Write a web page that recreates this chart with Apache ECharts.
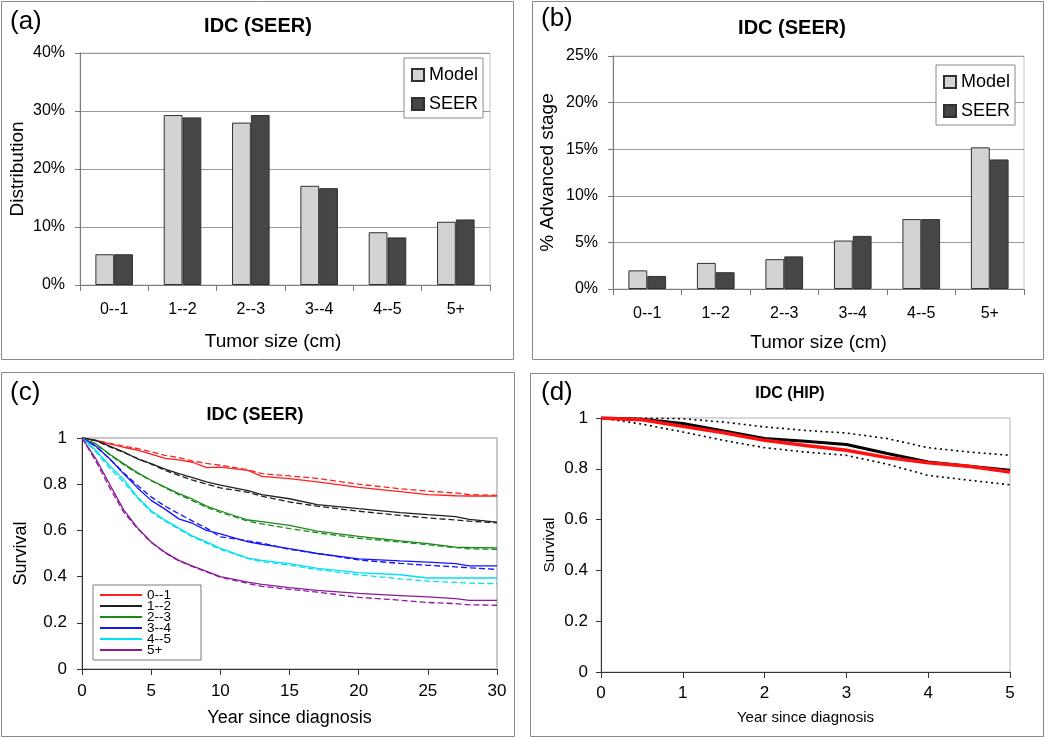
<!DOCTYPE html>
<html>
<head>
<meta charset="utf-8">
<script src="https://cdn.jsdelivr.net/npm/echarts@6/dist/echarts.min.js"></script>
<style>html,body{margin:0;padding:0;background:#fff}#chart{width:1050px;height:738px}</style>
</head>
<body>
<div id="chart"></div>
<script>
// ---------- data ----------
const catLabels = ['0--1', '1--2', '2--3', '3--4', '4--5', '5+'];
const distModel = [5.3, 29.3, 28.0, 17.1, 9.1, 10.9];
const distSeer  = [5.3, 28.9, 29.3, 16.7, 8.2, 11.3];
const advModel  = [2.0, 2.8, 3.2, 5.2, 7.5, 15.2];
const advSeer   = [1.4, 1.8, 3.5, 5.7, 7.5, 13.9];

const survYears = [0, 1, 2, 3, 4, 5, 6, 7, 8, 9, 10, 12, 13, 15, 17, 20, 23, 25, 27, 28, 30];
const groupNames = ['0--1', '1--2', '2--3', '3--4', '4--5', '5+'];
const surv01Solid  = [1, 0.99, 0.975, 0.96, 0.948, 0.93, 0.912, 0.905, 0.895, 0.872, 0.874, 0.86, 0.834, 0.824, 0.81, 0.786, 0.768, 0.755, 0.75, 0.749, 0.749];
const surv01Dashed = [1, 0.99, 0.977, 0.965, 0.955, 0.94, 0.925, 0.915, 0.9, 0.89, 0.882, 0.862, 0.846, 0.836, 0.825, 0.8, 0.78, 0.77, 0.762, 0.755, 0.752];
const surv12Solid  = [1, 0.99, 0.965, 0.94, 0.91, 0.889, 0.865, 0.846, 0.828, 0.81, 0.796, 0.772, 0.755, 0.737, 0.712, 0.694, 0.677, 0.668, 0.66, 0.648, 0.636];
const surv12Dashed = [1, 0.988, 0.962, 0.938, 0.912, 0.887, 0.86, 0.838, 0.818, 0.8, 0.784, 0.765, 0.748, 0.723, 0.705, 0.683, 0.665, 0.654, 0.645, 0.64, 0.633];
const surv23Solid  = [1, 0.975, 0.93, 0.889, 0.85, 0.817, 0.787, 0.759, 0.735, 0.705, 0.684, 0.645, 0.638, 0.622, 0.597, 0.574, 0.555, 0.543, 0.528, 0.526, 0.524];
const surv23Dashed = [1, 0.973, 0.928, 0.885, 0.848, 0.815, 0.785, 0.755, 0.728, 0.7, 0.678, 0.64, 0.628, 0.608, 0.59, 0.566, 0.55, 0.538, 0.525, 0.52, 0.518];
const surv34Solid  = [1, 0.965, 0.91, 0.846, 0.785, 0.73, 0.692, 0.65, 0.63, 0.6, 0.585, 0.55, 0.54, 0.521, 0.5, 0.477, 0.468, 0.463, 0.456, 0.446, 0.446];
const surv34Dashed = [1, 0.963, 0.91, 0.85, 0.795, 0.745, 0.705, 0.672, 0.64, 0.61, 0.572, 0.555, 0.545, 0.518, 0.5, 0.472, 0.457, 0.449, 0.442, 0.438, 0.431];
const surv45Solid  = [1, 0.947, 0.88, 0.822, 0.745, 0.685, 0.645, 0.61, 0.575, 0.55, 0.522, 0.48, 0.47, 0.456, 0.436, 0.417, 0.408, 0.394, 0.394, 0.394, 0.394];
const surv45Dashed = [1, 0.94, 0.87, 0.81, 0.74, 0.68, 0.64, 0.605, 0.572, 0.545, 0.518, 0.478, 0.465, 0.45, 0.43, 0.408, 0.39, 0.38, 0.375, 0.372, 0.369];
const surv5pSolid  = [1, 0.91, 0.8, 0.69, 0.612, 0.55, 0.505, 0.47, 0.445, 0.423, 0.4, 0.376, 0.366, 0.352, 0.34, 0.327, 0.318, 0.312, 0.305, 0.297, 0.297];
const surv5pDashed = [1, 0.9, 0.785, 0.68, 0.608, 0.548, 0.503, 0.468, 0.443, 0.42, 0.398, 0.37, 0.358, 0.345, 0.333, 0.31, 0.298, 0.288, 0.283, 0.278, 0.276];

const hipYears    = [0, 0.5, 1, 1.5, 2, 2.5, 3, 3.5, 4, 4.5, 5];
const hipObserved = [1, 0.995, 0.978, 0.949, 0.919, 0.908, 0.896, 0.86, 0.827, 0.81, 0.794];
const hipModel    = [1, 0.993, 0.967, 0.942, 0.912, 0.892, 0.873, 0.844, 0.824, 0.81, 0.787];
const hipUpper    = [1, 1.0, 0.997, 0.984, 0.965, 0.951, 0.941, 0.919, 0.883, 0.866, 0.853];
const hipLower    = [1, 0.976, 0.945, 0.912, 0.883, 0.866, 0.853, 0.818, 0.774, 0.755, 0.737];

// ---------- styles ----------
const FONT = '"Liberation Sans", Arial, sans-serif';
const groupColors = ['#ff2020', '#202020', '#1a8a1a', '#1515ff', '#00e0f0', '#8a1a9a'];
const solidSets = [surv01Solid, surv12Solid, surv23Solid, surv34Solid, surv45Solid, surv5pSolid];
const dashedSets = [surv01Dashed, surv12Dashed, surv23Dashed, surv34Dashed, surv45Dashed, surv5pDashed];

const zip = (xs, ys) => xs.map((x, i) => [x, ys[i]]);

function catAxis(gi, name, gap, namePad) {
  return {
    gridIndex: gi, type: 'category', data: catLabels,
    axisLine: { show: true, lineStyle: { color: '#7a7a7a', width: 1 } },
    axisTick: { show: true, length: 6, lineStyle: { color: '#7a7a7a' } },
    axisLabel: { color: '#000', fontSize: 16, margin: 17, fontFamily: FONT },
    name: name, nameLocation: 'middle', nameGap: gap,
    nameTextStyle: { color: '#000', fontSize: 19, fontFamily: FONT, padding: namePad }
  };
}
function pctAxis(gi, max, interval, name, gap) {
  return {
    gridIndex: gi, type: 'value', min: 0, max: max, interval: interval,
    axisLine: { show: true, lineStyle: { color: '#7a7a7a', width: 1 } },
    axisTick: { show: true, length: 5, lineStyle: { color: '#7a7a7a' } },
    axisLabel: { color: '#000', fontSize: 16, margin: 15, fontFamily: FONT, formatter: '{value}%' },
    splitLine: { show: true, lineStyle: { color: '#9a9a9a', width: 1 } },
    name: name, nameLocation: 'middle', nameGap: gap, nameRotate: 90,
    nameTextStyle: { color: '#000', fontSize: 19, fontFamily: FONT }
  };
}
function valXAxis(gi, max, interval, gap, fs, nfs, margin) {
  return {
    gridIndex: gi, type: 'value', min: 0, max: max, interval: interval,
    axisLine: { show: true, lineStyle: { color: '#333', width: 1 } },
    axisTick: { show: true, length: 6, lineStyle: { color: '#333' } },
    axisLabel: { color: '#000', fontSize: fs, margin: margin, fontFamily: FONT },
    splitLine: { show: false },
    name: 'Year since diagnosis', nameLocation: 'middle', nameGap: gap,
    nameTextStyle: { color: '#000', fontSize: nfs, fontFamily: FONT }
  };
}
function survYAxis(gi, gap, fs, nfs, margin) {
  return {
    gridIndex: gi, type: 'value', min: 0, max: 1, interval: 0.2,
    axisLine: { show: true, lineStyle: { color: '#333', width: 1 } },
    axisTick: { show: true, length: 5, lineStyle: { color: '#333' } },
    axisLabel: { color: '#000', fontSize: fs, margin: margin, fontFamily: FONT },
    splitLine: { show: false },
    name: 'Survival', nameLocation: 'middle', nameGap: gap, nameRotate: 90,
    nameTextStyle: { color: '#000', fontSize: nfs, fontFamily: FONT }
  };
}
function barSeries(name, data, gi, color) {
  return {
    name: name, type: 'bar', xAxisIndex: gi, yAxisIndex: gi, data: data,
    barGap: '0%', barCategoryGap: '45%',
    itemStyle: { color: color, borderColor: '#303030', borderWidth: 1 },
    emphasis: { disabled: true }, animation: false
  };
}

const series = [
  barSeries('Model', distModel, 0, '#d3d3d3'),
  barSeries('SEER', distSeer, 0, '#464646'),
  barSeries('Model', advModel, 1, '#d3d3d3'),
  barSeries('SEER', advSeer, 1, '#464646')
];
groupNames.forEach((g, i) => {
  series.push({
    name: g, type: 'line', xAxisIndex: 2, yAxisIndex: 2, data: zip(survYears, solidSets[i]),
    symbol: 'none', color: groupColors[i], lineStyle: { width: 1.3, color: groupColors[i] }, animation: false
  });
  series.push({
    name: g + ' model', type: 'line', xAxisIndex: 2, yAxisIndex: 2, data: zip(survYears, dashedSets[i]),
    symbol: 'none', color: groupColors[i], lineStyle: { width: 1.3, type: [6, 3], color: groupColors[i] }, animation: false
  });
});
series.push(
  { name: 'Upper', type: 'line', xAxisIndex: 3, yAxisIndex: 3, data: zip(hipYears, hipUpper), symbol: 'none',
    lineStyle: { width: 1.6, type: [2, 3.5], color: '#000' }, animation: false },
  { name: 'Lower', type: 'line', xAxisIndex: 3, yAxisIndex: 3, data: zip(hipYears, hipLower), symbol: 'none',
    lineStyle: { width: 1.6, type: [2, 3.5], color: '#000' }, animation: false },
  { name: 'Observed', type: 'line', xAxisIndex: 3, yAxisIndex: 3, data: zip(hipYears, hipObserved), symbol: 'none',
    lineStyle: { width: 3, color: '#000' }, animation: false },
  { name: 'Predicted', type: 'line', xAxisIndex: 3, yAxisIndex: 3, data: zip(hipYears, hipModel), symbol: 'none',
    lineStyle: { width: 3.5, color: '#ff1010' }, animation: false }
);

function titleItem(text, left, top, size, bold, align) {
  return { text: text, left: left, top: top, padding: 0, textAlign: align,
    textStyle: { fontSize: size, fontWeight: bold ? 'bold' : 'normal', color: '#000', fontFamily: FONT } };
}

const option = {
  backgroundColor: '#fff',
  animation: false,
  textStyle: { fontFamily: FONT },
  title: [
    titleItem('(a)', 10, 9, 26, false, 'left'),
    titleItem('(b)', 541, 6, 26, false, 'left'),
    titleItem('(c)', 10, 380, 26, false, 'left'),
    titleItem('(d)', 541, 380, 26, false, 'left'),
    titleItem('IDC (SEER)', 258, 16, 20, true, 'center'),
    titleItem('IDC (SEER)', 792, 18, 20, true, 'center'),
    titleItem('IDC (SEER)', 255, 406, 18, true, 'center'),
    titleItem('IDC (HIP)', 790, 386, 16, true, 'center')
  ],
  grid: [
    { left: 80, top: 53, width: 410, height: 232, show: true, borderColor: '#c4c4c4', borderWidth: 1 },
    { left: 613, top: 56, width: 411, height: 233, show: true, borderColor: '#c4c4c4', borderWidth: 1 },
    { left: 82, top: 438, width: 415, height: 231, show: true, borderColor: '#c8c8c8', borderWidth: 2 },
    { left: 601, top: 418, width: 409, height: 254, show: true, borderColor: '#cccccc', borderWidth: 1.5 }
  ],
  xAxis: [
    catAxis(0, 'Tumor size (cm)', 47, [0, 24, 0, 0]),
    catAxis(1, 'Tumor size (cm)', 44, 0),
    valXAxis(2, 30, 5, 40, 17, 18, 14),
    valXAxis(3, 5, 1, 38, 17, 15, 13)
  ],
  yAxis: [
    pctAxis(0, 40, 10, 'Distribution', 53),
    pctAxis(1, 25, 5, '% Advanced stage', 56),
    survYAxis(2, 52, 17, 18, 15),
    survYAxis(3, 43, 17, 15.5, 13)
  ],
  legend: [
    { data: ['Model', 'SEER'], left: 404, top: 58, orient: 'vertical', icon: 'rect',
      itemWidth: 12, itemHeight: 12, itemGap: 11, padding: [8, 5, 5, 7],
      borderColor: '#8a8a8a', borderWidth: 1, backgroundColor: '#fff', selectedMode: false,
      textStyle: { fontSize: 18, color: '#000', fontFamily: FONT } },
    { data: ['Model', 'SEER'], left: 936, top: 65, orient: 'vertical', icon: 'rect',
      itemWidth: 12, itemHeight: 12, itemGap: 11, padding: [8, 5, 5, 7],
      borderColor: '#8a8a8a', borderWidth: 1, backgroundColor: '#fff', selectedMode: false,
      textStyle: { fontSize: 18, color: '#000', fontFamily: FONT } },
    { data: groupNames, left: 93, top: 585, orient: 'vertical', icon: 'rect',
      itemWidth: 42, itemHeight: 2, itemGap: -3, padding: [3, 30, 3, 7],
      borderColor: '#7a7a7a', borderWidth: 1, backgroundColor: '#fff', selectedMode: false,
      textStyle: { fontSize: 13.5, color: '#000', fontFamily: FONT } }
  ],
  graphic: [
    { type: 'rect', shape: { x: 1.5, y: 1.5, width: 512, height: 358 }, style: { fill: 'none', stroke: '#8a8a8a', lineWidth: 1 }, silent: true },
    { type: 'rect', shape: { x: 532.5, y: 1.5, width: 511, height: 358 }, style: { fill: 'none', stroke: '#8a8a8a', lineWidth: 1 }, silent: true },
    { type: 'rect', shape: { x: 1.5, y: 372.5, width: 513, height: 364 }, style: { fill: 'none', stroke: '#8a8a8a', lineWidth: 1 }, silent: true },
    { type: 'rect', shape: { x: 530.5, y: 373.5, width: 513, height: 363 }, style: { fill: 'none', stroke: '#8a8a8a', lineWidth: 1 }, silent: true }
  ],
  series: series
};

const chart = echarts.init(document.getElementById('chart'), null, { renderer: 'canvas' });
chart.setOption(option);
</script>
</body>
</html>
